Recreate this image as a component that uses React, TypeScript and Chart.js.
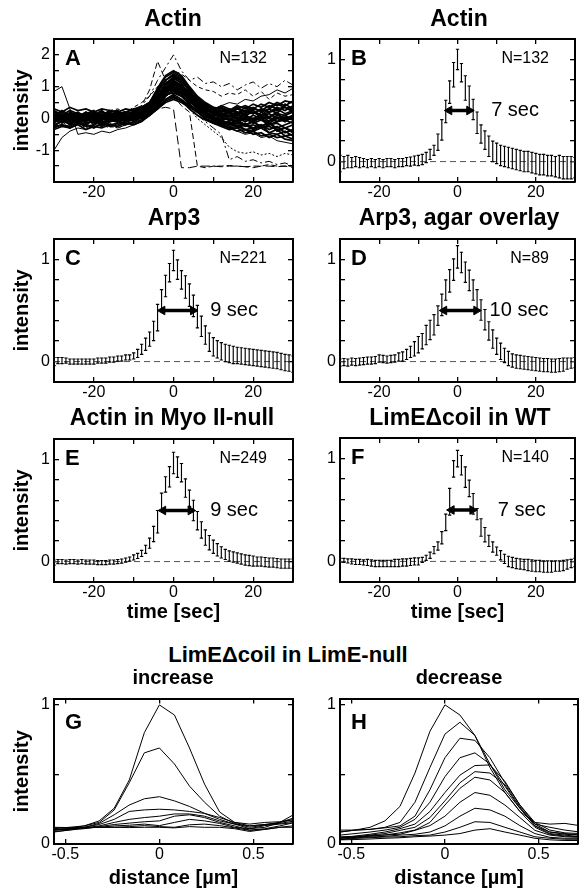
import React, { useEffect, useRef } from 'react';
import { Chart, registerables } from 'chart.js';

Chart.register(...registerables);

const FONT = "'Liberation Sans', Arial, Helvetica, sans-serif";
Chart.defaults.font.family = FONT;
Chart.defaults.color = '#000';

// ---------- shared axes values ----------
const timeSec = [-30,-29,-28,-27,-26,-25,-24,-23,-22,-21,-20,-19,-18,-17,-16,-15,-14,-13,-12,-11,-10,-9,-8,-7,-6,-5,-4,-3,-2,-1,0,1,2,3,4,5,6,7,8,9,10,11,12,13,14,15,16,17,18,19,20,21,22,23,24,25,26,27,28,29,30];
const timeTicks = [-30, -20, -10, 0, 10, 20, 30];
const timeLabels = [-20, 0, 20];
const intensityTicks = [-0.2, 0, 0.2, 0.4, 0.6, 0.8, 1, 1.2];
const intensityLabels = [0, 1];
const traceYTicks = [-2, -1.5, -1, -0.5, 0, 0.5, 1, 1.5, 2, 2.5];
const traceYLabels = [-1, 0, 1, 2];
const distance = [-0.56,-0.48,-0.40,-0.32,-0.24,-0.16,-0.08,0,0.08,0.16,0.24,0.32,0.40,0.48,0.56,0.64,0.72];
const distTicks = [-0.5, 0, 0.5];
const distLabels = [-0.5, 0, 0.5];
const profYTicks = [0, 0.5, 1];
const profYLabels = [0, 1];

// ---------- panel A: individual actin traces (2 s sampling) ----------
const timeA = [-30,-28,-26,-24,-22,-20,-18,-16,-14,-12,-10,-8,-6,-4,-2,0,2,4,6,8,10,12,14,16,18,20,22,24,26,28,30];
const actinTraces = [
  [0.1,-0.05,0.12,0.0,-0.1,0.05,0.15,-0.02,0.08,-0.06,0.1,0.12,0.3,0.55,0.95,1.2,1.0,0.7,0.45,0.3,0.15,0.05,-0.05,0.1,0.0,-0.12,0.05,-0.08,0.1,0.02,-0.05],
  [-0.15,0.05,-0.1,0.08,0.02,-0.12,0.0,0.1,-0.05,0.05,-0.08,0.05,0.2,0.4,0.7,0.9,0.8,0.55,0.3,0.2,0.05,-0.1,-0.2,-0.15,-0.25,-0.2,-0.3,-0.25,-0.35,-0.3,-0.4],
  [0.2,0.1,0.25,0.15,0.05,0.2,0.1,0.25,0.15,0.2,0.3,0.35,0.5,0.85,1.2,1.4,1.25,0.9,0.6,0.45,0.35,0.3,0.25,0.35,0.2,0.3,0.25,0.4,0.3,0.35,0.25],
  [-0.25,-0.2,-0.3,-0.15,-0.25,-0.2,-0.1,-0.2,-0.15,-0.1,-0.05,0.0,0.15,0.35,0.6,0.7,0.55,0.3,0.1,-0.05,-0.15,-0.2,-0.3,-0.25,-0.35,-0.4,-0.3,-0.45,-0.5,-0.4,-0.55],
  [0.0,0.08,-0.05,0.1,0.05,-0.02,0.08,0.0,0.12,0.05,0.08,0.15,0.3,0.6,0.85,1.0,0.9,0.65,0.4,0.25,0.15,0.1,0.05,0.12,0.08,0.0,0.1,0.05,0.15,0.1,0.2],
  [-0.05,-0.1,0.05,-0.08,0.1,0.0,-0.05,0.05,-0.1,0.0,0.05,0.1,0.25,0.5,0.9,1.1,0.95,0.65,0.35,0.15,0.0,-0.1,-0.15,-0.05,-0.2,-0.1,-0.25,-0.15,-0.3,-0.2,-0.1],
  [0.15,0.0,0.1,0.2,0.05,0.15,0.0,0.12,0.2,0.1,0.15,0.2,0.35,0.55,0.75,0.8,0.7,0.5,0.4,0.3,0.25,0.2,0.3,0.15,0.25,0.35,0.2,0.3,0.45,0.35,0.3],
  [-0.1,0.0,-0.15,-0.05,-0.1,0.05,-0.1,-0.05,0.0,-0.08,0.0,0.05,0.2,0.6,1.05,1.3,1.1,0.75,0.45,0.2,0.05,-0.05,0.0,-0.1,0.05,-0.05,0.0,-0.15,0.0,-0.1,0.05],
  [0.05,-0.15,0.0,-0.1,-0.2,-0.05,-0.15,0.0,-0.1,-0.05,0.0,0.05,0.15,0.3,0.5,0.6,0.5,0.35,0.2,0.05,-0.05,-0.15,-0.1,-0.25,-0.15,-0.3,-0.2,-0.35,-0.25,-0.45,-0.35],
  [0.0,0.1,0.05,0.15,0.0,0.1,0.05,0.15,0.1,0.2,0.2,0.3,0.5,0.95,1.35,1.5,1.35,1.0,0.7,0.5,0.35,0.25,0.2,0.3,0.4,0.3,0.45,0.35,0.5,0.4,0.55],
  [0.25,0.1,0.15,0.05,0.2,0.1,0.25,0.05,0.15,0.1,0.2,0.25,0.4,0.65,0.85,0.95,0.8,0.6,0.35,0.2,0.1,0.05,0.1,0.0,0.05,-0.05,0.05,0.0,-0.1,0.05,0.0],
  [-0.2,-0.1,-0.05,-0.15,0.0,-0.1,-0.2,-0.05,-0.12,0.0,-0.05,0.1,0.2,0.45,0.9,1.15,1.05,0.8,0.55,0.35,0.2,0.15,0.1,0.2,0.15,0.25,0.1,0.2,0.3,0.15,0.25],
  [0.1,0.2,0.05,0.0,0.12,0.2,0.05,0.15,0.0,0.1,0.12,0.18,0.3,0.5,0.75,0.85,0.7,0.45,0.25,0.1,0.0,-0.05,-0.15,-0.1,-0.2,-0.1,-0.3,-0.2,-0.15,-0.3,-0.2],
  [-0.05,0.05,0.15,0.05,-0.05,0.1,0.2,0.1,0.05,0.15,0.1,0.2,0.4,0.7,1.1,1.25,1.15,0.9,0.65,0.45,0.3,0.2,0.3,0.2,0.1,0.2,0.05,0.15,0.0,0.1,-0.05],
  [-0.3,-0.2,-0.25,-0.1,-0.2,-0.3,-0.15,-0.25,-0.2,-0.1,-0.15,-0.05,0.1,0.3,0.6,0.75,0.6,0.4,0.2,0.0,-0.1,-0.2,-0.3,-0.4,-0.35,-0.5,-0.45,-0.6,-0.5,-0.65,-0.7],
  [0.15,0.05,0.0,0.1,0.15,0.0,0.1,0.2,0.05,0.15,0.0,0.15,0.3,0.6,0.9,1.05,0.95,0.7,0.5,0.35,0.2,0.25,0.15,0.3,0.2,0.15,0.3,0.2,0.35,0.25,0.4],
  [0.05,-0.05,0.1,-0.1,0.0,0.05,-0.05,0.1,0.0,0.05,0.1,0.2,0.45,0.8,1.2,1.35,1.2,0.85,0.55,0.3,0.15,0.05,-0.05,0.0,-0.1,0.0,-0.05,-0.1,0.05,-0.05,0.0],
  [-0.1,0.0,-0.05,-0.15,-0.05,0.0,-0.12,-0.08,0.0,-0.05,0.0,0.0,0.1,0.3,0.55,0.65,0.55,0.4,0.25,0.15,0.05,0.0,-0.05,-0.1,0.0,-0.15,-0.05,-0.2,-0.1,-0.05,-0.15],
  [0.3,0.2,0.35,0.25,0.3,0.2,0.3,0.25,0.2,0.3,0.25,0.35,0.5,0.7,0.9,1.0,0.9,0.7,0.5,0.4,0.3,0.35,0.25,0.4,0.3,0.45,0.35,0.5,0.4,0.55,0.5],
  [-0.35,-0.25,-0.3,-0.2,-0.35,-0.25,-0.3,-0.2,-0.25,-0.15,-0.2,-0.1,0.1,0.35,0.7,0.9,0.75,0.45,0.2,0.0,-0.15,-0.25,-0.35,-0.3,-0.45,-0.4,-0.55,-0.5,-0.6,-0.55,-0.65],
  [0.0,0.15,-0.05,0.05,0.2,0.1,0.0,0.1,0.15,0.05,0.15,0.25,0.45,0.75,1.05,1.2,1.05,0.8,0.5,0.3,0.2,0.1,0.0,0.05,-0.05,0.1,0.0,0.05,-0.1,0.0,0.1],
  [-0.1,0.0,0.05,-0.05,0.1,-0.05,0.05,0.0,0.1,0.05,0.15,0.25,0.5,0.9,1.3,1.45,1.3,0.95,0.6,0.4,0.25,0.15,0.2,0.1,0.25,0.15,0.3,0.2,0.25,0.35,0.2],
  [0.05,0.25,0.1,-0.1,0.15,0.25,-0.05,0.2,0.25,0.0,0.25,0.3,0.4,0.65,1.0,1.1,1.0,0.75,0.55,0.4,0.25,0.4,0.3,0.15,0.35,0.2,0.1,0.3,0.15,0.45,0.3],
  [-0.25,-0.05,-0.2,0.0,-0.15,-0.05,-0.25,-0.1,-0.05,-0.2,-0.1,0.05,0.15,0.4,0.8,0.95,0.85,0.6,0.35,0.1,-0.05,-0.2,-0.1,-0.3,-0.2,-0.35,-0.25,-0.1,-0.4,-0.3,-0.45],
  [0.15,-0.1,0.2,0.1,-0.1,0.15,0.05,-0.1,0.2,0.1,0.05,0.2,0.35,0.65,1.1,1.3,1.2,0.9,0.6,0.4,0.15,0.1,0.2,-0.05,0.15,-0.1,0.2,0.05,0.2,-0.1,0.1],
  [-0.15,0.1,-0.2,-0.05,0.05,-0.2,0.1,-0.1,-0.05,0.1,-0.05,0.1,0.25,0.55,0.95,1.15,1.0,0.7,0.4,0.2,0.0,-0.15,-0.25,-0.2,-0.35,-0.3,-0.2,-0.45,-0.35,-0.55,-0.5],
];
const actinOutliers = [
  [0.05,-0.1,0.0,0.1,-0.05,0.05,0.0,-0.1,0.05,0.1,0.0,0.15,0.2,0.3,0.35,0.3,-1.55,-1.55,-1.5,-1.5,-1.5,-1.52,-1.5,-1.5,-1.52,-1.55,-1.5,-1.5,-1.52,-1.5,-1.55],
  [-0.1,0.0,0.1,-0.05,0.05,0.15,0.0,0.1,0.2,0.15,0.3,0.4,0.7,1.2,1.6,2.0,1.5,1.2,1.3,1.1,1.15,1.0,1.1,0.9,1.05,1.15,0.95,1.1,1.0,1.2,1.05],
  [0.0,0.1,-0.05,0.05,0.1,0.0,0.1,0.05,0.15,0.1,0.2,0.4,0.9,1.8,1.2,0.7,0.4,0.2,-1.5,-1.55,-1.5,-1.5,-1.48,-1.5,-1.52,-1.5,-1.5,-1.45,-1.5,-1.5,-1.5],
  [-0.2,-0.1,-0.3,-0.15,-0.25,-0.1,-0.2,-0.3,-0.15,-0.2,-0.1,0.0,0.2,0.5,0.8,0.9,0.7,0.4,0.1,-0.1,-0.3,-0.5,-1.3,-1.2,-1.35,-1.3,-1.4,-1.35,-1.45,-1.4,-1.5],
  [-0.1,-0.2,-0.05,-0.15,-0.3,-0.2,-0.1,-0.25,-0.3,-0.2,-0.15,-0.1,0.1,0.3,0.6,0.75,0.6,0.3,0.0,-0.2,-0.4,-0.6,-0.9,-1.05,-1.1,-1.05,-1.15,-1.1,-1.2,-1.1,-1.15],
  [0.85,1.0,0.3,-0.5,-0.45,-0.5,-0.4,-0.45,-0.35,-0.3,-0.2,-0.1,0.1,0.4,0.7,0.85,0.7,0.45,0.2,0.0,-0.1,-0.2,-0.3,-0.4,-0.5,-0.45,-0.6,-0.55,-0.7,-0.75,-0.8],
  [-1.0,-0.6,-0.4,-0.3,-0.35,-0.2,-0.25,-0.15,-0.3,-0.2,-0.1,-0.05,0.15,0.45,0.75,0.9,0.75,0.5,0.35,0.2,0.3,0.4,0.5,0.45,0.6,0.55,0.7,0.75,0.9,0.8,0.95],
  [0.1,0.2,0.0,0.15,0.05,0.2,0.1,0.25,0.3,0.2,0.35,0.5,0.7,1.0,1.3,1.5,1.4,1.2,1.0,0.9,0.85,0.7,0.8,0.75,0.9,0.7,0.85,0.6,0.8,0.7,0.75],
];

// ---------- panels B-F: averaged profiles (mean, s.d.) ----------
const meanB = [-0.02,-0.01,0.0,-0.01,0.0,-0.01,-0.01,-0.02,-0.01,-0.02, -0.01,-0.02,-0.01,-0.01,-0.02,-0.01,-0.01,0.0,0.0,0.01, 0.01,0.02,0.04,0.07,0.11,0.19,0.31,0.49,0.68,0.85, 1.0, 0.87,0.72,0.62,0.51,0.38,0.27,0.21,0.15,0.1,0.08, 0.06,0.05,0.04,0.03,0.02,0.01,0.0,0.0,-0.01,-0.02, -0.03,-0.03,-0.04,-0.04,-0.05,-0.05,-0.06,-0.06,-0.06,-0.06];
const errB = [0.08,0.06,0.06,0.05,0.05,0.05,0.04,0.04,0.04,0.04, 0.04,0.04,0.04,0.04,0.04,0.04,0.04,0.04,0.045,0.045, 0.05,0.05,0.05,0.05,0.05,0.08,0.1,0.11,0.11,0.12, 0.1, 0.09,0.12,0.12,0.1,0.105,0.09,0.09,0.1,0.1,0.1, 0.1,0.1,0.1,0.1,0.1,0.1,0.1,0.1,0.1,0.1, 0.1,0.1,0.1,0.1,0.1,0.11,0.11,0.11,0.11,0.1];
const meanC = [0.0,0.01,0.01,0.01,0.0,0.0,0.0,0.0,0.0,0.0, 0.0,0.01,0.01,0.01,0.02,0.02,0.03,0.03,0.04,0.04, 0.055,0.08,0.12,0.17,0.22,0.3,0.43,0.6,0.74,0.87, 0.99, 0.9,0.8,0.73,0.65,0.545,0.44,0.345,0.26,0.19,0.145, 0.12,0.1,0.085,0.075,0.065,0.06,0.055,0.05,0.045,0.04, 0.035,0.03,0.025,0.02,0.015,0.01,0.0,-0.01,-0.015,-0.025];
const errC = [0.04,0.03,0.03,0.025,0.025,0.025,0.025,0.025,0.025,0.025, 0.025,0.025,0.025,0.025,0.025,0.025,0.025,0.025,0.025,0.025, 0.03,0.04,0.05,0.06,0.07,0.095,0.13,0.105,0.105,0.09, 0.1, 0.095,0.09,0.11,0.11,0.105,0.11,0.1,0.09,0.09,0.09, 0.085,0.085,0.085,0.085,0.085,0.08,0.08,0.08,0.08,0.08, 0.08,0.08,0.08,0.08,0.08,0.08,0.08,0.08,0.08,0.08];
const meanD = [-0.01,-0.005,-0.01,0.0,-0.005,0.0,0.005,0.01,0.01,0.015, 0.03,0.025,0.02,0.025,0.03,0.045,0.05,0.07,0.095,0.125, 0.165,0.2,0.26,0.31,0.36,0.45,0.555,0.7,0.79,0.9, 1.025, 0.97,0.875,0.795,0.7,0.605,0.505,0.41,0.3,0.22,0.15, 0.1,0.06,0.03,0.01,0.0,-0.005,-0.01,-0.015,-0.02,-0.025, -0.03,-0.035,-0.035,-0.04,-0.04,-0.035,-0.03,-0.02,-0.015,-0.01];
const errD = [0.035,0.035,0.035,0.035,0.035,0.035,0.035,0.035,0.035,0.035, 0.035,0.035,0.035,0.035,0.035,0.04,0.045,0.05,0.055,0.07, 0.08,0.075,0.095,0.095,0.1,0.095,0.105,0.1,0.11,0.105, 0.11, 0.1,0.1,0.1,0.1,0.1,0.1,0.1,0.09,0.09,0.08, 0.08,0.07,0.07,0.065,0.065,0.065,0.065,0.065,0.065,0.065, 0.065,0.065,0.065,0.065,0.065,0.065,0.065,0.055,0.05,0.05];
const meanE = [-0.01,0.0,0.0,-0.005,0.0,0.0,-0.005,0.0,-0.005,-0.005, -0.005,-0.01,-0.01,-0.01,-0.005,-0.005,0.0,0.005,0.015,0.025, 0.04,0.055,0.08,0.12,0.18,0.27,0.39,0.585,0.755,0.83, 0.965, 0.925,0.87,0.72,0.62,0.5,0.4,0.31,0.235,0.185,0.145, 0.115,0.09,0.07,0.055,0.045,0.035,0.025,0.015,0.01,0.005, 0.0,0.0,-0.005,-0.01,-0.01,-0.015,-0.02,-0.02,-0.02,-0.02];
const errE = [0.025,0.02,0.02,0.02,0.02,0.02,0.02,0.02,0.02,0.02, 0.02,0.02,0.02,0.02,0.02,0.02,0.02,0.02,0.02,0.02, 0.025,0.025,0.03,0.04,0.05,0.075,0.11,0.085,0.075,0.1, 0.105, 0.1,0.09,0.09,0.08,0.1,0.09,0.08,0.075,0.07,0.065, 0.06,0.055,0.05,0.05,0.05,0.05,0.05,0.05,0.05,0.05, 0.045,0.045,0.045,0.045,0.045,0.045,0.045,0.045,0.045,0.045];
const meanF = [0.01,0.01,0.005,0.0,-0.005,-0.005,-0.01,-0.01,-0.015,-0.02, -0.02,-0.02,-0.02,-0.02,-0.015,-0.015,-0.01,-0.01,-0.005,0.0, 0.0,0.015,0.035,0.06,0.11,0.15,0.23,0.38,0.58,0.9, 1.0, 0.935,0.82,0.71,0.56,0.46,0.33,0.26,0.2,0.14,0.1, 0.06,0.025,0.0,-0.01,-0.02,-0.025,-0.03,-0.035,-0.04,-0.045, -0.045,-0.05,-0.05,-0.05,-0.045,-0.045,-0.04,-0.03,-0.02,-0.01];
const errF = [0.02,0.02,0.02,0.025,0.025,0.025,0.025,0.03,0.03,0.03, 0.03,0.03,0.03,0.03,0.035,0.035,0.035,0.035,0.035,0.035, 0.035,0.025,0.025,0.03,0.035,0.04,0.06,0.08,0.13,0.08, 0.08, 0.095,0.1,0.08,0.1,0.055,0.085,0.07,0.055,0.05,0.04, 0.045,0.045,0.05,0.05,0.05,0.05,0.05,0.055,0.055,0.055, 0.055,0.055,0.055,0.055,0.05,0.05,0.05,0.045,0.04,0.04];

// FWHM arrows (arrow-head centres, s) and their labels
const fwhmB = [-2.1, 3.0];
const fwhmC = [-2.8, 4.9];
const fwhmD = [-3.4, 4.8];
const fwhmE = [-2.6, 4.3];
const fwhmF = [-1.5, 3.8];
const halfMax = 0.5;

// ---------- panels G-H: line profiles ----------
const increaseProfiles = [
  [0.11,0.12,0.13,0.166,0.257,0.46,0.8,1.0,0.927,0.69,0.43,0.23,0.155,0.13,0.14,0.155,0.216],
  [0.1,0.11,0.13,0.155,0.245,0.44,0.655,0.69,0.575,0.416,0.3,0.2,0.148,0.12,0.136,0.155,0.177],
  [0.086,0.1,0.12,0.148,0.21,0.28,0.325,0.34,0.31,0.27,0.22,0.177,0.143,0.11,0.12,0.155,0.19],
  [0.1,0.11,0.12,0.14,0.177,0.234,0.245,0.25,0.245,0.234,0.22,0.19,0.155,0.143,0.155,0.16,0.177],
  [0.1,0.105,0.116,0.13,0.155,0.177,0.19,0.2,0.216,0.216,0.2,0.166,0.143,0.13,0.14,0.148,0.166],
  [0.09,0.1,0.11,0.125,0.14,0.15,0.16,0.166,0.2,0.21,0.19,0.155,0.13,0.1,0.11,0.13,0.155],
  [0.105,0.11,0.115,0.12,0.13,0.135,0.143,0.132,0.155,0.177,0.166,0.148,0.12,0.11,0.132,0.143,0.155],
  [0.12,0.118,0.115,0.12,0.12,0.125,0.132,0.125,0.12,0.138,0.143,0.132,0.116,0.098,0.105,0.12,0.132],
  [0.116,0.115,0.118,0.12,0.12,0.118,0.12,0.12,0.116,0.125,0.12,0.12,0.11,0.09,0.105,0.12,0.12],
];
const decreaseProfiles = [
  [0.086,0.1,0.12,0.166,0.27,0.51,0.81,1.0,0.927,0.78,0.55,0.37,0.234,0.155,0.143,0.148,0.132],
  [0.086,0.1,0.105,0.12,0.155,0.3,0.55,0.79,0.875,0.78,0.575,0.39,0.257,0.143,0.12,0.1,0.086],
  [0.1,0.1,0.105,0.116,0.13,0.2,0.39,0.62,0.76,0.745,0.62,0.44,0.28,0.155,0.1,0.08,0.075],
  [0.064,0.075,0.086,0.1,0.12,0.177,0.3,0.484,0.62,0.655,0.575,0.416,0.257,0.13,0.086,0.075,0.064],
  [0.041,0.057,0.07,0.086,0.11,0.143,0.234,0.37,0.495,0.564,0.568,0.45,0.28,0.143,0.086,0.07,0.064],
  [0.03,0.048,0.064,0.075,0.098,0.12,0.19,0.31,0.44,0.52,0.51,0.426,0.268,0.13,0.075,0.064,0.052],
  [0.045,0.05,0.055,0.065,0.08,0.1,0.155,0.28,0.4,0.48,0.46,0.37,0.234,0.12,0.07,0.057,0.052],
  [0.052,0.055,0.06,0.065,0.07,0.098,0.132,0.2,0.3,0.37,0.35,0.28,0.19,0.098,0.064,0.052,0.048],
  [0.041,0.045,0.05,0.055,0.064,0.07,0.086,0.13,0.2,0.257,0.245,0.2,0.132,0.075,0.048,0.041,0.041],
  [0.034,0.04,0.045,0.05,0.052,0.06,0.064,0.086,0.12,0.16,0.155,0.12,0.086,0.052,0.041,0.034,0.034],
  [0.03,0.032,0.036,0.041,0.045,0.052,0.057,0.064,0.075,0.1,0.11,0.086,0.064,0.041,0.03,0.025,0.025],
];

// ---------- helpers ----------
const pts = (xs: number[], ys: number[]) => xs.map((x, i) => ({ x, y: ys[i] }));

function errorBarDataset(xs: number[], mean: number[], err: number[], cap: number) {
  const data: { x: number; y: number | null }[] = [];
  xs.forEach((x, i) => {
    const lo = mean[i] - err[i];
    const hi = mean[i] + err[i];
    data.push({ x, y: lo }, { x, y: hi }, { x, y: null });
    data.push({ x: x - cap, y: hi }, { x: x + cap, y: hi }, { x, y: null });
    data.push({ x: x - cap, y: lo }, { x: x + cap, y: lo }, { x, y: null });
  });
  return { data, borderColor: '#000', borderWidth: 1.15, pointRadius: 0, spanGaps: false, xAxisID: 'x', yAxisID: 'y' };
}

function zeroLineDataset(xs: number[]) {
  return {
    data: [{ x: xs[0], y: 0 }, { x: xs[xs.length - 1], y: 0 }],
    borderColor: '#555', borderWidth: 1, borderDash: [6, 4], pointRadius: 0, xAxisID: 'x', yAxisID: 'y',
  };
}

function arrowDataset(ends: number[]) {
  return {
    data: [{ x: ends[0], y: halfMax }, { x: ends[1], y: halfMax }],
    borderColor: '#000', borderWidth: 3.5, pointStyle: 'triangle', pointRadius: 5,
    pointRotation: [-90, 90], pointBackgroundColor: '#000', pointBorderColor: '#000', pointBorderWidth: 1,
    xAxisID: 'x', yAxisID: 'y',
  };
}

function averagedDatasets(mean: number[], err: number[], ends: number[]) {
  return [arrowDataset(ends), errorBarDataset(timeSec, mean, err, 0.42), zeroLineDataset(timeSec)];
}

const outlierDashes = [[9, 4], [7, 3, 2, 3], [6, 3], [8, 3, 2, 3], [2, 2], [], [], [4, 3]];

function actinDatasets() {
  const core = actinTraces.map((t) => ({
    data: pts(timeA, t), borderColor: '#000', borderWidth: 1.7, pointRadius: 0, xAxisID: 'x', yAxisID: 'y',
  }));
  const out = actinOutliers.map((t, i) => ({
    data: pts(timeA, t), borderColor: '#000', borderWidth: 1, borderDash: outlierDashes[i], pointRadius: 0,
    xAxisID: 'x', yAxisID: 'y',
  }));
  return [...core, ...out];
}

function profileDatasets(profiles: number[][]) {
  return profiles.map((p) => ({
    data: pts(distance, p), borderColor: '#000', borderWidth: 1, pointRadius: 0, xAxisID: 'x', yAxisID: 'y',
  }));
}

interface Frame {
  left: number; top: number; w: number; h: number;
  padTop: number; padRight: number; yAxisW: number; xAxisH: number;
  xMin: number; xMax: number; xTicks: number[]; xLabels: number[];
  yMin: number; yMax: number; yTicks: number[]; yLabels: number[];
  yTitle?: string; xTitle?: string; xTitlePad?: number;
  letter: string; letterDy: number; nLabel?: string;
  widthLabel?: { text: string; x: number; y: number };
}

function buildScales(f: Frame) {
  const tickFont = { family: FONT, size: 16 };
  const grid = { drawOnChartArea: false, drawTicks: true, tickLength: -5, color: '#000', lineWidth: 1.3 };
  const border = { display: true, color: '#000', width: 2 };
  const setTicks = (vals: number[]) => (s: any) => { s.ticks = vals.map((v) => ({ value: v })); };
  const label = (vals: number[]) => (v: any) => (vals.includes(v) ? String(v) : '');
  const xTitle = f.xTitle
    ? { display: true, text: f.xTitle, color: '#000', font: { family: FONT, size: 20, weight: 'bold' }, padding: { top: 0, bottom: f.xTitlePad ?? 0 } }
    : { display: false };
  const yTitle = f.yTitle
    ? { display: true, text: f.yTitle, color: '#000', font: { family: FONT, size: 20, weight: 'bold' }, padding: { top: 10, bottom: 0 } }
    : { display: false };
  return {
    x: {
      type: 'linear', position: 'bottom', min: f.xMin, max: f.xMax,
      afterBuildTicks: setTicks(f.xTicks), afterFit: (s: any) => { s.height = f.xAxisH; },
      ticks: { font: tickFont, color: '#000', padding: 6, maxRotation: 0, autoSkip: false, callback: label(f.xLabels) },
      grid, border, title: xTitle,
    },
    xTop: {
      type: 'linear', position: 'top', min: f.xMin, max: f.xMax,
      afterBuildTicks: setTicks(f.xTicks), afterFit: (s: any) => { s.height = 0; },
      ticks: { display: false }, grid, border,
    },
    y: {
      type: 'linear', position: 'left', min: f.yMin, max: f.yMax,
      afterBuildTicks: setTicks(f.yTicks), afterFit: (s: any) => { s.width = f.yAxisW; },
      ticks: { font: tickFont, color: '#000', padding: 9, autoSkip: false, callback: label(f.yLabels) },
      grid, border, title: yTitle,
    },
    yRight: {
      type: 'linear', position: 'right', min: f.yMin, max: f.yMax,
      afterBuildTicks: setTicks(f.yTicks), afterFit: (s: any) => { s.width = 0; },
      ticks: { display: false }, grid, border,
    },
  };
}

function textPlugin(f: Frame) {
  return {
    id: 'panelText',
    afterDatasetsDraw(chart: any) {
      const { ctx, chartArea: a, scales } = chart;
      ctx.save();
      ctx.fillStyle = '#000';
      ctx.textBaseline = 'middle';
      ctx.textAlign = 'left';
      ctx.font = `bold 22px ${FONT}`;
      ctx.fillText(f.letter, a.left + 11, a.top + f.letterDy);
      if (f.nLabel) {
        ctx.font = `16px ${FONT}`;
        ctx.textAlign = 'right';
        ctx.fillText(f.nLabel, a.right - 26, a.top + 20);
      }
      if (f.widthLabel) {
        ctx.font = `20px ${FONT}`;
        ctx.textAlign = 'left';
        ctx.fillText(f.widthLabel.text, scales.x.getPixelForValue(f.widthLabel.x), scales.y.getPixelForValue(f.widthLabel.y));
      }
      ctx.restore();
    },
  };
}

const timeFrame = { xMin: -30, xMax: 30, xTicks: timeTicks, xLabels: timeLabels };
const avgY = { yMin: -0.2, yMax: 1.2, yTicks: intensityTicks, yLabels: intensityLabels };
const distFrame = { xMin: -0.56, xMax: 0.71, xTicks: distTicks, xLabels: distLabels, yMin: 0, yMax: 1.045, yTicks: profYTicks, yLabels: profYLabels };
const leftCol = { left: 0, w: 300, yAxisW: 54, padRight: 7 };
const rightCol = { left: 300, w: 281, yAxisW: 40, padRight: 3 };

const panels: { frame: Frame; datasets: () => any[] }[] = [
  {
    frame: { ...leftCol, ...timeFrame, top: 0, h: 210, padTop: 39, xAxisH: 28, yMin: -2, yMax: 2.5, yTicks: traceYTicks, yLabels: traceYLabels,
      yTitle: 'intensity', letter: 'A', letterDy: 20, nLabel: 'N=132' },
    datasets: actinDatasets,
  },
  {
    frame: { ...rightCol, ...timeFrame, ...avgY, top: 0, h: 210, padTop: 39, xAxisH: 28, letter: 'B', letterDy: 20, nLabel: 'N=132',
      widthLabel: { text: '7 sec', x: 8.6, y: halfMax } },
    datasets: () => averagedDatasets(meanB, errB, fwhmB),
  },
  {
    frame: { ...leftCol, ...timeFrame, ...avgY, top: 200, h: 210, padTop: 39, xAxisH: 28, yTitle: 'intensity', letter: 'C', letterDy: 20, nLabel: 'N=221',
      widthLabel: { text: '9 sec', x: 9.2, y: halfMax } },
    datasets: () => averagedDatasets(meanC, errC, fwhmC),
  },
  {
    frame: { ...rightCol, ...timeFrame, ...avgY, top: 200, h: 210, padTop: 39, xAxisH: 28, letter: 'D', letterDy: 20, nLabel: 'N=89',
      widthLabel: { text: '10 sec', x: 8.2, y: halfMax } },
    datasets: () => averagedDatasets(meanD, errD, fwhmD),
  },
  {
    frame: { ...leftCol, ...timeFrame, ...avgY, top: 400, h: 230, padTop: 39, xAxisH: 48, yTitle: 'intensity', xTitle: 'time [sec]', xTitlePad: 6,
      letter: 'E', letterDy: 20, nLabel: 'N=249', widthLabel: { text: '9 sec', x: 9.2, y: halfMax } },
    datasets: () => averagedDatasets(meanE, errE, fwhmE),
  },
  {
    frame: { ...rightCol, ...timeFrame, ...avgY, top: 400, h: 230, padTop: 38, xAxisH: 48, xTitle: 'time [sec]', xTitlePad: 6,
      letter: 'F', letterDy: 20, nLabel: 'N=140', widthLabel: { text: '7 sec', x: 10.3, y: halfMax } },
    datasets: () => averagedDatasets(meanF, errF, fwhmF),
  },
  {
    frame: { ...leftCol, ...distFrame, top: 680, h: 210, padTop: 11, xAxisH: 46, yTitle: 'intensity', xTitle: 'distance [µm]', xTitlePad: 0,
      letter: 'G', letterDy: 24 },
    datasets: () => profileDatasets(increaseProfiles),
  },
  {
    frame: { ...rightCol, ...distFrame, top: 680, h: 210, padTop: 11, xAxisH: 46, xTitle: 'distance [µm]', xTitlePad: 0,
      letter: 'H', letterDy: 24 },
    datasets: () => profileDatasets(decreaseProfiles),
  },
];

const titles = [
  { text: 'Actin', x: 173, y: 18, size: 23 },
  { text: 'Actin', x: 459, y: 18, size: 23 },
  { text: 'Arp3', x: 174, y: 217, size: 23 },
  { text: 'Arp3, agar overlay', x: 459, y: 217, size: 23 },
  { text: 'Actin in Myo II-null', x: 172, y: 417, size: 23 },
  { text: 'LimEΔcoil in WT', x: 460, y: 417, size: 23 },
  { text: 'LimEΔcoil in LimE-null', x: 288, y: 655, size: 22 },
  { text: 'increase', x: 173, y: 677, size: 20 },
  { text: 'decrease', x: 459, y: 677, size: 20 },
];

function Panel({ frame, datasets }: { frame: Frame; datasets: () => any[] }) {
  const ref = useRef<HTMLCanvasElement>(null);
  useEffect(() => {
    const chart = new Chart(ref.current as HTMLCanvasElement, {
      type: 'line',
      data: { datasets: datasets() },
      options: {
        responsive: false,
        animation: false,
        devicePixelRatio: 1,
        events: [],
        layout: { padding: { top: frame.padTop, right: frame.padRight, left: 0, bottom: 0 } },
        elements: { line: { tension: 0 }, point: { radius: 0 } },
        plugins: { legend: { display: false }, tooltip: { enabled: false }, title: { display: false } },
        scales: buildScales(frame) as any,
      },
      plugins: [textPlugin(frame)],
    } as any);
    return () => chart.destroy();
  }, []);
  return (
    <canvas
      ref={ref}
      width={frame.w}
      height={frame.h}
      style={{ position: 'absolute', left: frame.left, top: frame.top, width: frame.w, height: frame.h }}
    />
  );
}

export default function App() {
  return (
    <div style={{ position: 'absolute', left: 0, top: 0, width: 581, height: 890, background: '#fff', overflow: 'hidden' }}>
      {panels.map((p, i) => (
        <Panel key={i} frame={p.frame} datasets={p.datasets} />
      ))}
      {titles.map((t, i) => (
        <div
          key={'t' + i}
          style={{
            position: 'absolute', left: t.x, top: t.y, transform: 'translate(-50%, -50%)',
            fontFamily: FONT, fontWeight: 'bold', fontSize: t.size, lineHeight: 1, whiteSpace: 'nowrap', color: '#000',
          }}
        >
          {t.text}
        </div>
      ))}
    </div>
  );
}
